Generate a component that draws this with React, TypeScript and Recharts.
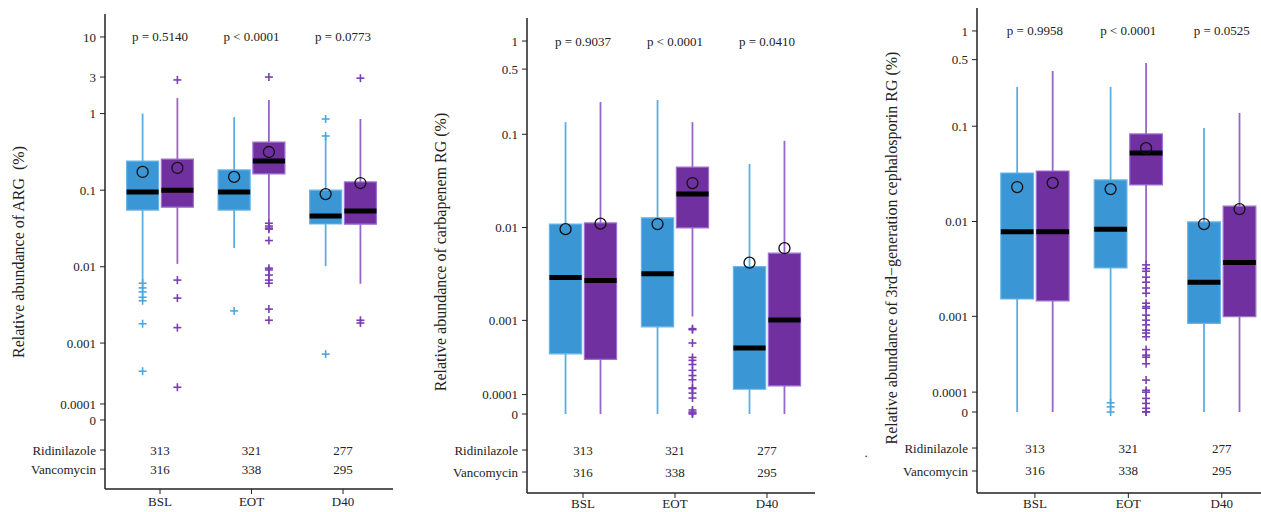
import React from 'react';
import { ComposedChart, XAxis, YAxis, Scatter, ReferenceArea, ReferenceLine } from 'recharts';

const FONT = 'Liberation Serif, Times New Roman, DejaVu Serif, serif';

// ---------- data ----------
const categories = ['BSL', 'EOT', 'D40'];
const groupNames = ['Ridinilazole', 'Vancomycin'];
const countsRidinilazole = [313, 321, 277];
const countsVancomycin = [316, 338, 295];

// each box: [whiskerLow, q1, median, q3, whiskerHigh, mean]   (relative abundance, %)
// Panel A: ARG
const argTicks = [0, 0.0001, 0.001, 0.01, 0.1, 1, 3, 10];
const argPValues = ['p = 0.5140', 'p < 0.0001', 'p = 0.0773'];
const argRidBoxes = [
  [0.0063, 0.055, 0.095, 0.24, 1.0, 0.173],
  [0.0176, 0.055, 0.095, 0.184, 0.9, 0.149],
  [0.0102, 0.0362, 0.046, 0.1, 0.49, 0.089],
];
const argVanBoxes = [
  [0.0109, 0.06, 0.1, 0.255, 1.6, 0.195],
  [0.04, 0.163, 0.24, 0.425, 1.5, 0.315],
  [0.006, 0.036, 0.0535, 0.128, 0.85, 0.124],
];
const argRidOutliers = [
  [0.0061, 0.0053, 0.0047, 0.004, 0.0036, 0.0018, 0.00041],
  [0.00265],
  [0.85, 0.51, 0.00071],
];
const argVanOutliers = [
  [2.75, 0.0067, 0.0039, 0.0016, 0.00023],
  [3.0, 0.037, 0.034, 0.032, 0.031, 0.022, 0.0096, 0.0091, 0.0078, 0.0067, 0.0061, 0.0028, 0.002],
  [2.9, 0.002, 0.00184],
];

// Panel B: carbapenem RG
const carbTicks = [0, 0.0001, 0.001, 0.01, 0.1, 0.5, 1];
const carbPValues = ['p = 0.9037', 'p < 0.0001', 'p = 0.0410'];
const carbRidBoxes = [
  [0, 0.00042, 0.0029, 0.0109, 0.135, 0.0096],
  [0, 0.00085, 0.0032, 0.0127, 0.233, 0.0109],
  [0, 0.00013, 0.00049, 0.0038, 0.048, 0.0042],
];
const carbVanBoxes = [
  [0, 0.00036, 0.0027, 0.0112, 0.222, 0.011],
  [0.0011, 0.0099, 0.0229, 0.0445, 0.135, 0.03],
  [0, 0.00015, 0.00101, 0.0053, 0.085, 0.006],
];
const carbRidOutliers = [[], [], []];
const carbVanOutliers = [
  [],
  [0.00081, 0.00079, 0.00056, 0.00038, 0.00035, 0.00031, 0.00026, 0.00022, 0.00019, 0.000138, 0.000134, 0.000108, 0.000081, 0.00002, 0.00001, 0.000005, 0],
  [],
];

// Panel C: 3rd-generation cephalosporin RG
const cephTicks = [0, 0.0001, 0.001, 0.01, 0.1, 0.5, 1];
const cephPValues = ['p = 0.9958', 'p < 0.0001', 'p = 0.0525'];
const cephRidBoxes = [
  [0, 0.00153, 0.0078, 0.0323, 0.258, 0.023],
  [0.00005, 0.00325, 0.0083, 0.0273, 0.258, 0.0219],
  [0, 0.00084, 0.0023, 0.0099, 0.096, 0.0094],
];
const cephVanBoxes = [
  [0, 0.00146, 0.0078, 0.0339, 0.38, 0.0254],
  [0.0037, 0.0242, 0.0524, 0.083, 0.46, 0.059],
  [0, 0.00099, 0.0037, 0.0145, 0.138, 0.0135],
];
const cephRidOutliers = [[], [0.000045, 0.000025, 0], []];
const cephVanOutliers = [
  [],
  [0.0035, 0.0032, 0.003, 0.0026, 0.0023, 0.002, 0.00176, 0.00138, 0.00127, 0.00122, 0.00103, 0.00091, 0.00081,
    0.00071, 0.00066, 0.0006, 0.00043, 0.00037, 0.00035, 0.00029, 0.00017, 0.00011, 0.0001, 0.000067, 0.000042,
    0.000018, 0.000001, 0],
  [],
];

// ---------- scale transform (pseudo-log / asinh) ----------
const C = 0.0002;
const T = (v: number) => Math.asinh(v / C) / Math.LN10;

// ---------- styles ----------
const BLUE_FILL = '#3a96d5';
const BLUE_EDGE = '#6ab4e6';
const BLUE_LINE = '#5aafe2';
const BLUE_OUT = '#4ea6dd';
const PURPLE_FILL = '#7030a0';
const PURPLE_EDGE = '#a071d2';
const PURPLE_LINE = '#9866c8';
const PURPLE_OUT = '#7a3db6';
const fills = [BLUE_FILL, PURPLE_FILL];
const edges = [BLUE_EDGE, PURPLE_EDGE];
const lines = [BLUE_LINE, PURPLE_LINE];
const outColors = [BLUE_OUT, PURPLE_OUT];

const BOX_W = 0.35;
const OFFSETS = [-0.19, 0.19];
const TEXT = '#222';

type Layout = {
  left: number; width: number; yAxisWidth: number; marginTop: number; marginRight: number;
  xAxisHeight: number; xTickMargin: number; xDomain: [number, number]; yDomain: [number, number];
  rowRid: number; rowVan: number; pRow: number;
};

const layouts: Layout[] = [
  { left: 0, width: 400, yAxisWidth: 105, marginTop: 14, marginRight: 7, xAxisHeight: 23, xTickMargin: 3,
    xDomain: [0.399, 3.546], yDomain: [-0.901, 5.3], rowRid: -0.392, rowVan: -0.64, pRow: T(10) },
  { left: 420, width: 400, yAxisWidth: 107, marginTop: 18, marginRight: 5, xAxisHeight: 19, xTickMargin: 1,
    xDomain: [0.391, 3.522], yDomain: [-0.847, 4.247], rowRid: -0.386, rowVan: -0.622, pRow: T(1) },
  { left: 860, width: 401, yAxisWidth: 117, marginTop: 8, marginRight: 0, xAxisHeight: 19, xTickMargin: 1,
    xDomain: [0.38, 3.42], yDomain: [-0.85, 4.241], rowRid: -0.378, rowVan: -0.619, pRow: T(1) },
];

const textShape = (p: any) => (
  <text x={p.cx} y={p.cy} textAnchor="middle" dominantBaseline="central" fontSize={13} fontFamily={FONT} fill={TEXT}>
    {p.payload.label}
  </text>
);
const meanShape = (p: any) => (
  <circle cx={p.cx} cy={p.cy} r={5.5} fill="none" stroke="#111" strokeWidth={1.3} />
);
const plusShape = (color: string) => (p: any) => (
  <g>
    <line x1={p.cx - 4} x2={p.cx + 4} y1={p.cy} y2={p.cy} stroke={color} strokeWidth={1.6} />
    <line x1={p.cx} x2={p.cx} y1={p.cy - 4} y2={p.cy + 4} stroke={color} strokeWidth={1.6} />
  </g>
);

function Panel({ layout, ticks, pValues, boxes, outliers }: {
  layout: Layout; ticks: number[]; pValues: string[]; boxes: number[][][]; outliers: number[][][];
}) {
  const yTickVals = [layout.rowVan, layout.rowRid, ...ticks.map(T)];
  const yLabel = (v: number) => {
    if (Math.abs(v - layout.rowRid) < 1e-9) return groupNames[0];
    if (Math.abs(v - layout.rowVan) < 1e-9) return groupNames[1];
    const t = ticks.find((tk) => Math.abs(T(tk) - v) < 1e-9);
    return t === undefined ? '' : String(t);
  };

  const areas: React.ReactNode[] = [];
  const segs: React.ReactNode[] = [];
  boxes.forEach((grp, g) => {
    grp.forEach((b, i) => {
      const xc = i + 1 + OFFSETS[g];
      const [lo, q1, med, q3, hi] = b;
      areas.push(
        <ReferenceArea key={`a${g}${i}`} x1={xc - BOX_W / 2} x2={xc + BOX_W / 2} y1={T(q1)} y2={T(q3)}
          fill={fills[g]} fillOpacity={1} stroke={edges[g]} strokeWidth={1.2} ifOverflow="visible" />
      );
      segs.push(
        <ReferenceLine key={`wu${g}${i}`} segment={[{ x: xc, y: T(q3) }, { x: xc, y: T(hi) }]}
          stroke={lines[g]} strokeWidth={1.8} ifOverflow="visible" />,
        <ReferenceLine key={`wl${g}${i}`} segment={[{ x: xc, y: T(lo) }, { x: xc, y: T(q1) }]}
          stroke={lines[g]} strokeWidth={1.8} ifOverflow="visible" />,
        <ReferenceLine key={`m${g}${i}`} segment={[{ x: xc - BOX_W / 2, y: T(med) }, { x: xc + BOX_W / 2, y: T(med) }]}
          stroke="#000" strokeWidth={5} ifOverflow="visible" />
      );
    });
  });

  const meanData = boxes.flatMap((grp, g) => grp.map((b, i) => ({ x: i + 1 + OFFSETS[g], y: T(b[5]) })));
  const outData = outliers.map((grp, g) =>
    grp.flatMap((vals, i) => vals.map((v) => ({ x: i + 1 + OFFSETS[g], y: T(v) })))
  );
  const countData = [
    ...countsRidinilazole.map((n, i) => ({ x: i + 1, y: layout.rowRid, label: String(n) })),
    ...countsVancomycin.map((n, i) => ({ x: i + 1, y: layout.rowVan, label: String(n) })),
  ];
  const pData = pValues.map((p, i) => ({ x: i + 1, y: layout.pRow, label: p }));

  return (
    <div style={{ position: 'absolute', left: layout.left, top: 0 }}>
      <ComposedChart width={layout.width} height={512}
        margin={{ top: layout.marginTop, right: layout.marginRight, bottom: 0, left: 0 }}>
        <XAxis type="number" dataKey="x" domain={layout.xDomain} allowDataOverflow ticks={[1, 2, 3]} interval={0}
          tickFormatter={(v: number) => categories[Math.round(v) - 1]} height={layout.xAxisHeight}
          tickSize={5} tickMargin={layout.xTickMargin} axisLine={{ stroke: '#222', strokeWidth: 1.5 }} tickLine={{ stroke: '#222' }}
          tick={{ fill: TEXT, fontSize: 13, fontFamily: FONT }} />
        <YAxis type="number" dataKey="y" domain={layout.yDomain} allowDataOverflow ticks={yTickVals} interval={0}
          tickFormatter={yLabel} width={layout.yAxisWidth} tickSize={5} tickMargin={4}
          axisLine={{ stroke: '#222', strokeWidth: 1.5 }} tickLine={{ stroke: '#222' }}
          tick={{ fill: TEXT, fontSize: 13, fontFamily: FONT }} />
        {areas}
        {segs}
        <Scatter data={outData[0]} shape={plusShape(outColors[0])} isAnimationActive={false} />
        <Scatter data={outData[1]} shape={plusShape(outColors[1])} isAnimationActive={false} />
        <Scatter data={meanData} shape={meanShape} isAnimationActive={false} />
        <Scatter data={countData} shape={textShape} isAnimationActive={false} />
        <Scatter data={pData} shape={textShape} isAnimationActive={false} />
      </ComposedChart>
    </div>
  );
}

const yTitles = [
  { text: 'Relative abundance of ARG  (%)', x: 18, y: 252 },
  { text: 'Relative abundance of carbapenem RG (%)', x: 440, y: 252 },
  { text: 'Relative abundance of 3rd\u2212generation cephalosporin RG (%)', x: 891, y: 248 },
];

export default function App() {
  return (
    <div style={{ position: 'fixed', left: 0, top: 0, width: 1261, height: 512, overflow: 'hidden', background: '#fff', fontFamily: FONT }}>
      <Panel layout={layouts[0]} ticks={argTicks} pValues={argPValues}
        boxes={[argRidBoxes, argVanBoxes]} outliers={[argRidOutliers, argVanOutliers]} />
      <Panel layout={layouts[1]} ticks={carbTicks} pValues={carbPValues}
        boxes={[carbRidBoxes, carbVanBoxes]} outliers={[carbRidOutliers, carbVanOutliers]} />
      <Panel layout={layouts[2]} ticks={cephTicks} pValues={cephPValues}
        boxes={[cephRidBoxes, cephVanBoxes]} outliers={[cephRidOutliers, cephVanOutliers]} />
      <svg width={1261} height={512} style={{ position: 'absolute', left: 0, top: 0, pointerEvents: 'none' }}>
        {yTitles.map((t) => (
          <text key={t.text} x={t.x} y={t.y} transform={`rotate(-90, ${t.x}, ${t.y})`} textAnchor="middle"
            dominantBaseline="central" fontSize={16} fontFamily={FONT} fill={TEXT} style={{ whiteSpace: 'pre' }}>
            {t.text}
          </text>
        ))}
        <text x={866} y={457} fontSize={13} fontFamily={FONT} fill={TEXT} textAnchor="middle">.</text>
      </svg>
    </div>
  );
}
